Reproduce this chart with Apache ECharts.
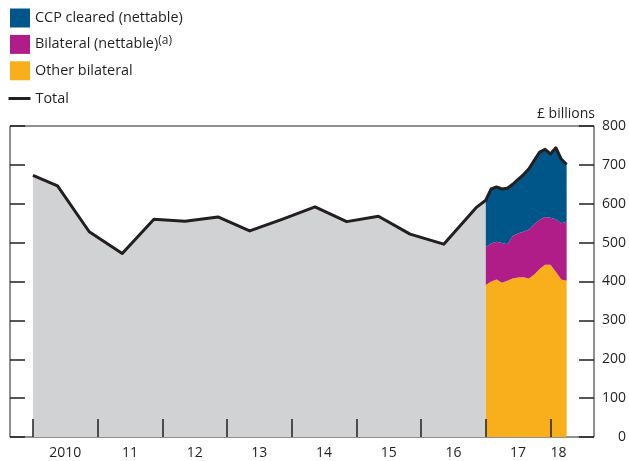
<!DOCTYPE html>
<html>
<head>
<meta charset="utf-8">
<script src="https://cdn.jsdelivr.net/npm/echarts@6/dist/echarts.min.js"></script>
<style>
  html, body { margin: 0; padding: 0; background: #fff; }
  #chart { width: 629px; height: 461px; }
</style>
</head>
<body>
<div id="chart"></div>
<script>
// Half-yearly totals before the component breakdown begins (£ billions)
const earlyDates = [2010.0, 2010.38, 2010.87, 2011.38, 2011.87, 2012.35, 2012.86, 2013.35,
                    2013.85, 2014.36, 2014.85, 2015.34, 2015.83, 2016.35, 2016.85];
const earlyTotal = [673, 646, 528, 472, 560, 555, 566, 530, 560, 592, 554, 568, 522, 496, 590];

// Monthly breakdown, Jan 2017 to Apr 2018 (£ billions)
const monthDates = [2017.0, 2017.083, 2017.167, 2017.25, 2017.333, 2017.417, 2017.5, 2017.583,
                    2017.667, 2017.75, 2017.833, 2017.917, 2018.0, 2018.083, 2018.167, 2018.25];
const otherBilateral = [391, 400, 405, 397, 402, 408, 410, 411, 408, 418, 432, 443, 443, 425, 405, 402];
const bilateralNettable = [98, 98, 97, 102, 94, 109, 114, 117, 126, 129, 127, 123, 121, 135, 145, 152];
const ccpCleared = [120, 140, 141, 139, 144, 133, 139, 147, 156, 165, 174, 174, 164, 184, 165, 147];

// Axis ticks and labels
const yearTicks = [2010, 2011, 2012, 2013, 2014, 2015, 2016, 2017, 2018];
const yearLabelPos = [2010.5, 2011.5, 2012.5, 2013.5, 2014.5, 2015.5, 2016.5, 2017.5, 2018.125];

const INK = '#231F20';
const FONT = 'Open Sans';

// Rows are [value, date] so the value column is the one that gets stacked
const rows = (xs, ys) => xs.map((x, i) => [ys[i], x]);
const monthTotal = monthDates.map((_, i) => otherBilateral[i] + bilateralNettable[i] + ccpCleared[i]);

const totalData = rows(earlyDates, earlyTotal).concat(rows(monthDates, monthTotal));
const greyData = rows(earlyDates, earlyTotal).concat([[monthTotal[0], monthDates[0]]]);

const chart = echarts.init(document.getElementById('chart'), null, { renderer: 'canvas' });

const areaSeries = (name, values, color) => ({
  name: name,
  type: 'line',
  stack: 'parts',
  data: rows(monthDates, values),
  encode: { x: 1, y: 0 },
  symbol: 'none',
  lineStyle: { width: 0 },
  itemStyle: { color: color },
  areaStyle: { color: color, opacity: 1 },
  z: 3
});

chart.setOption({
  animation: false,
  textStyle: { fontFamily: FONT },
  grid: {
    left: 10, right: 34, top: 126, bottom: 24,
    show: true, borderColor: INK, borderWidth: 1, backgroundColor: 'transparent'
  },
  legend: [{
    orient: 'vertical', left: 10, top: 8.5, padding: 0,
    icon: 'rect', itemWidth: 20, itemHeight: 19, itemGap: 7.4,
    selectedMode: false,
    data: ['CCP cleared (nettable)', 'Bilateral (nettable)', 'Other bilateral'],
    formatter: function (name) {
      return name === 'Bilateral (nettable)' ? '{t|' + name + '}{s|(a)}' : '{t|' + name + '}';
    },
    textStyle: {
      color: INK, fontFamily: FONT,
      rich: {
        t: { fontSize: 14.4, color: INK, fontFamily: FONT },
        s: { fontSize: 12, color: INK, fontFamily: FONT, padding: [0, 0, 7, 0] }
      }
    }
  }, {
    orient: 'vertical', left: 8.5, top: 91.5, padding: 0,
    icon: 'rect', itemWidth: 22, itemHeight: 3,
    selectedMode: false,
    data: ['Total'],
    textStyle: { color: INK, fontSize: 14.4, fontFamily: FONT }
  }],
  graphic: [{
    type: 'text', right: 34, top: 107,
    style: { text: '£ billions', fill: INK, font: '14px "' + FONT + '"' }
  }],
  xAxis: {
    type: 'value', min: 2009.645, max: 2018.673,
    z: 8,
    axisLine: { show: false },
    splitLine: { show: false },
    axisTick: {
      show: true, inside: true, length: 18,
      customValues: yearTicks,
      lineStyle: { color: INK, width: 1.5 }
    },
    axisLabel: {
      customValues: yearLabelPos,
      margin: 9, color: INK, fontSize: 14, fontFamily: FONT,
      formatter: function (v) {
        const y = Math.floor(v);
        return y === 2010 ? '2010' : String(y).slice(2);
      }
    }
  },
  yAxis: [{
    type: 'value', position: 'left', min: 0, max: 800, interval: 100,
    z: 8,
    axisLine: { show: false },
    splitLine: { show: false },
    axisTick: { show: true, inside: true, length: 15, lineStyle: { color: INK, width: 1.5 } },
    axisLabel: { show: false }
  }, {
    type: 'value', position: 'right', min: 0, max: 800, interval: 100,
    z: 8,
    axisLine: { show: false },
    splitLine: { show: false },
    axisTick: { show: true, inside: true, length: 15, lineStyle: { color: INK, width: 1.5 } },
    axisLabel: { show: true, align: 'right', margin: 32, color: INK, fontSize: 14, fontFamily: FONT }
  }],
  series: [{
    type: 'line',
    data: greyData,
    encode: { x: 1, y: 0 },
    symbol: 'none',
    lineStyle: { width: 0 },
    areaStyle: { color: '#D1D2D4', opacity: 1 },
    z: 2,
    silent: true
  },
    areaSeries('Other bilateral', otherBilateral, '#F9AE1B'),
    areaSeries('Bilateral (nettable)', bilateralNettable, '#B01C88'),
    areaSeries('CCP cleared (nettable)', ccpCleared, '#005689'),
  {
    name: 'Total',
    type: 'line',
    data: totalData,
    encode: { x: 1, y: 0 },
    symbol: 'none',
    lineStyle: { color: INK, width: 3, join: 'round' },
    itemStyle: { color: INK },
    z: 5
  }]
});
</script>
</body>
</html>
